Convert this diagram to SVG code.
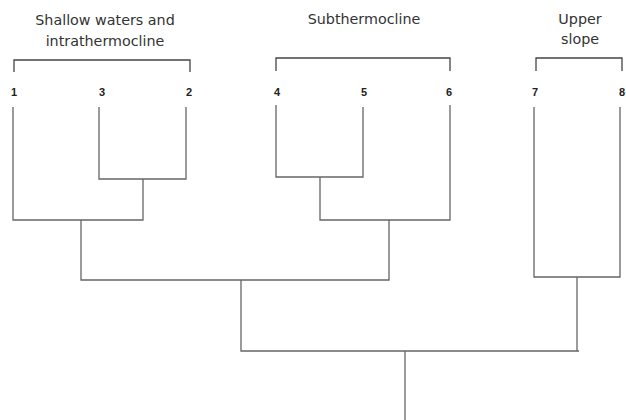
<svg xmlns="http://www.w3.org/2000/svg" width="626" height="420" viewBox="0 0 626 420">
<style>
.title{font-family:"DejaVu Sans","Liberation Sans",sans-serif;font-size:14.3px;fill:#333;text-anchor:middle}
.leaf{font-family:"Liberation Sans",sans-serif;font-size:11px;font-weight:bold;fill:#222;text-anchor:middle}
.br{fill:none;stroke:#444;stroke-width:1.3}
.ln{fill:none;stroke:#666;stroke-width:1.3}
</style>
<rect width="626" height="420" fill="#fff"/>
<g id="group-shallow">
<text class="title" x="105" y="25">Shallow waters and</text>
<text class="title" x="105" y="46">intrathermocline</text>
<path class="br" d="M14,72 V60 H190 V72"/>
</g>
<g id="group-subthermocline">
<text class="title" x="364" y="24">Subthermocline</text>
<path class="br" d="M276,71 V58 H450 V71"/>
</g>
<g id="group-upper">
<text class="title" x="580" y="24">Upper</text>
<text class="title" x="580" y="44">slope</text>
<path class="br" d="M536,71 V58 H622 V71"/>
</g>
<g id="n1"><text class="leaf" x="14" y="96">1</text></g>
<g id="n3"><text class="leaf" x="102" y="96">3</text></g>
<g id="n2"><text class="leaf" x="189" y="96">2</text></g>
<g id="n4"><text class="leaf" x="277" y="96">4</text></g>
<g id="n5"><text class="leaf" x="364" y="96">5</text></g>
<g id="n6"><text class="leaf" x="449" y="96">6</text></g>
<g id="n7"><text class="leaf" x="535" y="96">7</text></g>
<g id="n8"><text class="leaf" x="622" y="96">8</text></g>
<g id="connectors">
<path class="ln" d="M99,107 V179 H186 V107"/>
<path class="ln" d="M13,107 V220 H143 V179"/>
<path class="ln" d="M276,105 V177 H363 V107"/>
<path class="ln" d="M320,177 V220 H450 V105"/>
<path class="ln" d="M81,220 V280 H389 V220"/>
<path class="ln" d="M534,107 V277 H620 V107"/>
<path class="ln" d="M241,280 V351 H579"/>
<path class="ln" d="M577,277 V351"/>
<path class="ln" d="M405,351 V420"/>
</g>
</svg>
